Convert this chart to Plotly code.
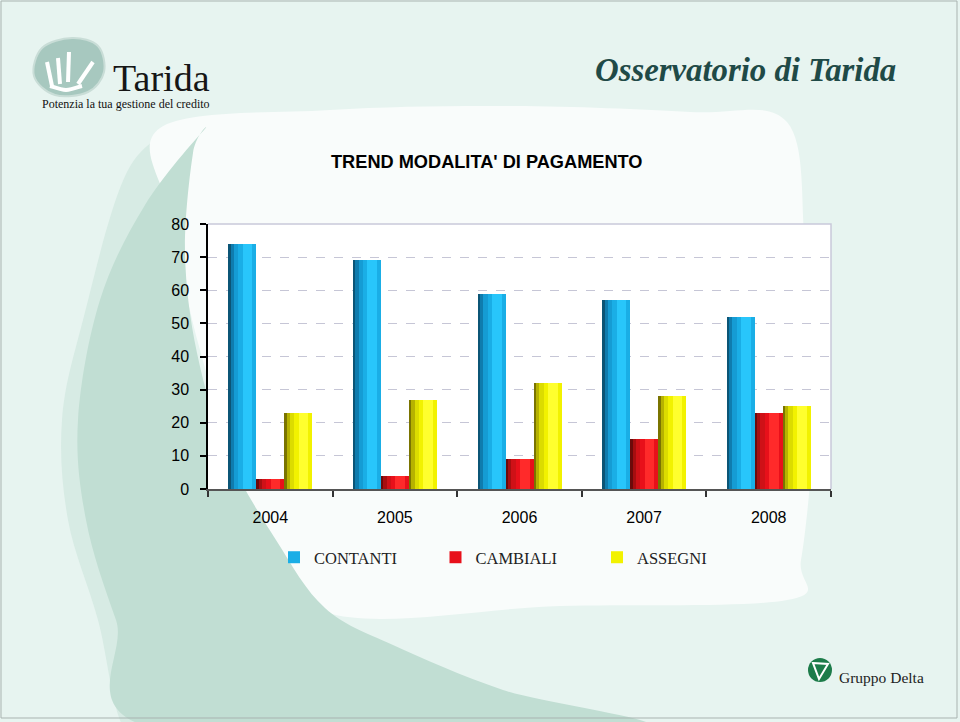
import plotly.graph_objects as go

# ---------------- data ----------------
years = ["2004", "2005", "2006", "2007", "2008"]
contanti = [74, 69, 59, 57, 52]
cambiali = [3, 4, 9, 15, 23]
assegni = [23, 27, 32, 28, 25]
series_names = ["CONTANTI", "CAMBIALI", "ASSEGNI"]
y_ticks = [0, 10, 20, 30, 40, 50, 60, 70, 80]

W, H = 960, 722


def X(px):
    return px / W


def Y(py):
    return 1 - py / H


def smooth_path(pts, closed=True):
    """Catmull-Rom spline through pixel points -> SVG path in paper coords."""
    n = len(pts)
    P = [(X(a), Y(b)) for a, b in pts]
    d = "M %.5f,%.5f" % P[0]
    rng = range(n) if closed else range(n - 1)
    for i in rng:
        p0 = P[(i - 1) % n] if (closed or i > 0) else P[i]
        p1 = P[i]
        p2 = P[(i + 1) % n]
        p3 = P[(i + 2) % n] if (closed or i + 2 < n) else p2
        c1 = (p1[0] + (p2[0] - p0[0]) / 6, p1[1] + (p2[1] - p0[1]) / 6)
        c2 = (p2[0] - (p3[0] - p1[0]) / 6, p2[1] - (p3[1] - p1[1]) / 6)
        d += " C %.5f,%.5f %.5f,%.5f %.5f,%.5f" % (c1 + c2 + p2)
    if closed:
        d += " Z"
    return d


def poly_path(pts):
    P = [(X(a), Y(b)) for a, b in pts]
    return "M " + " L ".join("%.5f,%.5f" % p for p in P) + " Z"


shapes = []

# slide background pieces
dark_left = [(204, 130), (145, 205), (100, 300), (78, 420), (86, 520), (116, 620), (160, 730)]
dark_right = [(640, 730), (503, 690), (393, 645), (325, 608), (276, 540), (227, 453), (197, 353), (185, 253), (193, 153)]
light_left = [(182, 126), (127, 172), (83, 320), (62, 420), (68, 520), (98, 620), (125, 730)]
light_shape = light_left + [(175, 730), (130, 620), (100, 520), (92, 420), (115, 300), (160, 200), (210, 128)]

shapes.append(dict(type="path", xref="paper", yref="paper", layer="below",
                   path=smooth_path(light_shape), fillcolor="#d7ebe4", line=dict(width=0)))

white_pts = [(160, 128), (330, 110), (513, 106), (690, 112), (787, 122), (805, 243), (815, 350),
             (812, 457), (801, 560), (787, 600), (560, 606), (325, 612), (250, 500), (200, 350), (172, 220)]
shapes.append(dict(type="path", xref="paper", yref="paper", layer="below",
                   path=smooth_path(white_pts), fillcolor="#f9fcfb", line=dict(width=0)))

shapes.append(dict(type="path", xref="paper", yref="paper", layer="below",
                   path=smooth_path(dark_left + dark_right), fillcolor="#c1ded3", line=dict(width=0)))

# slide frame
shapes.append(dict(type="rect", xref="paper", yref="paper", layer="below",
                   x0=X(1), x1=X(957), y0=Y(718), y1=Y(1), line=dict(color="#a9b3b0", width=1),
                   fillcolor="rgba(0,0,0,0)"))

# plot area
px0, px1, py0, py1 = 208, 831, 224, 489
shapes.append(dict(type="rect", xref="paper", yref="paper", layer="below",
                   x0=X(px0), x1=X(px1), y0=Y(py1), y1=Y(py0), fillcolor="#ffffff", line=dict(width=0)))
shapes.append(dict(type="path", xref="paper", yref="paper", layer="above",
                   path="M %.5f,%.5f L %.5f,%.5f L %.5f,%.5f" % (X(px0), Y(py0), X(px1), Y(py0), X(px1), Y(py1)),
                   line=dict(color="#c9c9da", width=1.5)))

# Tarida logo blob
blob = [(42, 48), (72, 38), (98, 46), (104, 72), (88, 92), (55, 95), (34, 76)]
shapes.append(dict(type="path", xref="paper", yref="paper", layer="below",
                   path=smooth_path(blob), fillcolor="#a7c8bf", line=dict(color="#c9ddd7", width=2)))
for a, b in [((52, 86), (47, 62)), ((60, 84), (58, 58)), ((68, 82), (69, 52)), ((78, 84), (93, 62))]:
    shapes.append(dict(type="line", xref="paper", yref="paper", layer="below",
                       x0=X(a[0]), y0=Y(a[1]), x1=X(b[0]), y1=Y(b[1]), line=dict(color="#ffffff", width=4)))
shapes.append(dict(type="path", xref="paper", yref="paper", layer="below",
                   path=smooth_path([(50, 86), (66, 90), (82, 86)], closed=False), line=dict(color="#ffffff", width=4)))

# Gruppo Delta logo
shapes.append(dict(type="circle", xref="paper", yref="paper", layer="below",
                   x0=X(808), x1=X(832), y0=Y(682), y1=Y(658), fillcolor="#1d7c4a", line=dict(width=0)))
shapes.append(dict(type="path", xref="paper", yref="paper", layer="below",
                   path=poly_path([(813, 663), (828, 664), (819, 679)]), fillcolor="#1d7c4a",
                   line=dict(color="#ffffff", width=2)))

# ---------------- bars ----------------
values = [contanti, cambiali, assegni]
main_colors = ["#1aaee6", "#e8101a", "#f2f200"]
shade_layers = [
    [(0.0, 0.09, "#0b5576"), (0.09, 0.2, "#0f7cae"), (0.2, 0.36, "#159cd4"), (0.52, 0.86, "#28c6fb")],
    [(0.0, 0.09, "#6c0a0a"), (0.09, 0.2, "#a60e10"), (0.2, 0.36, "#cf1117"), (0.52, 0.86, "#ff2a2a")],
    [(0.0, 0.09, "#7a7400"), (0.09, 0.2, "#b6b200"), (0.2, 0.36, "#dcdc00"), (0.52, 0.86, "#ffff2e")],
]
w = 0.2247
fig = go.Figure()
for i, (name, vals, col) in enumerate(zip(series_names, values, main_colors)):
    left = -1.5 * w + i * w
    fig.add_trace(go.Bar(x=years, y=vals, name=name, width=w, offset=left,
                         marker=dict(color=col, line=dict(width=0)), legendgroup=name, showlegend=True))
    for s, e, c in shade_layers[i]:
        fig.add_trace(go.Bar(x=years, y=vals, name=name, width=w * (e - s), offset=left + w * s,
                             marker=dict(color=c, line=dict(width=0)), legendgroup=name,
                             showlegend=False, hoverinfo="skip"))

annotations = [
    dict(text="<b>TREND MODALITA' DI PAGAMENTO</b>", x=X(486), y=Y(162), xref="paper", yref="paper",
         showarrow=False, font=dict(family="Liberation Sans, Arial", size=18.2, color="#000000"),
         xanchor="center", yanchor="middle"),
    dict(text="<b><i>Osservatorio di Tarida</i></b>", x=X(898), y=Y(70), xref="paper", yref="paper",
         showarrow=False, font=dict(family="Liberation Serif, serif", size=32.8, color="#1f4a47"),
         xanchor="right", yanchor="middle"),
    dict(text="Tarida", x=X(111), y=Y(78), xref="paper", yref="paper",
         showarrow=False, font=dict(family="Liberation Serif, serif", size=38, color="#161616"),
         xanchor="left", yanchor="middle"),
    dict(text="Potenzia la tua gestione del credito", x=X(40), y=Y(104), xref="paper", yref="paper",
         showarrow=False, font=dict(family="Liberation Serif, serif", size=12, color="#111111"),
         xanchor="left", yanchor="middle"),
    dict(text="Gruppo Delta", x=X(837), y=Y(677), xref="paper", yref="paper",
         showarrow=False, font=dict(family="Liberation Serif, serif", size=15.5, color="#222222"),
         xanchor="left", yanchor="middle"),
]

fig.update_layout(
    width=W, height=H,
    margin=dict(l=0, r=0, t=0, b=0, autoexpand=False),
    paper_bgcolor="#e7f4f0",
    plot_bgcolor="rgba(0,0,0,0)",
    barmode="overlay",
    bargap=0,
    shapes=shapes,
    annotations=annotations,
    showlegend=True,
    legend=dict(orientation="h", x=X(274), y=Y(540), xanchor="left", yanchor="top",
                bgcolor="rgba(0,0,0,0)", font=dict(family="Liberation Serif, serif", size=16.5, color="#222222"),
                entrywidth=116.5, entrywidthmode="pixels", itemwidth=30, traceorder="normal"),
    xaxis=dict(domain=[X(px0), X(px1)], type="category", range=[-0.5, 4.5],
               showline=True, linecolor="#555555", linewidth=1.5,
               ticks="outside", tickson="boundaries", ticklen=6, tickcolor="#333333", tickwidth=1.5,
               showgrid=False, zeroline=False,
               tickfont=dict(family="Liberation Sans, Arial", size=16, color="#000000"),
               ticklabelstandoff=13, fixedrange=True),
    yaxis=dict(domain=[Y(py1), Y(py0)], range=[0, 80], tickvals=y_ticks,
               showline=True, linecolor="#000000", linewidth=1.5,
               ticks="outside", ticklen=6, tickcolor="#000000", tickwidth=1.5,
               showgrid=True, gridcolor="#c6c6d6", griddash="dash", gridwidth=1, zeroline=False,
               tickfont=dict(family="Liberation Sans, Arial", size=16, color="#000000"),
               ticklabelstandoff=8, fixedrange=True),
)

post = (
    "document.documentElement.style.margin='0';document.documentElement.style.padding='0';"
    "document.body.style.margin='0';document.body.style.padding='0';document.body.style.overflow='hidden';"
    "var d=document.getElementsByClassName('plotly-graph-div')[0];"
    "d.style.position='absolute';d.style.top='0px';d.style.left='0px';"
)
fig.write_html("out.html", post_script=post, config={"displayModeBar": False})
